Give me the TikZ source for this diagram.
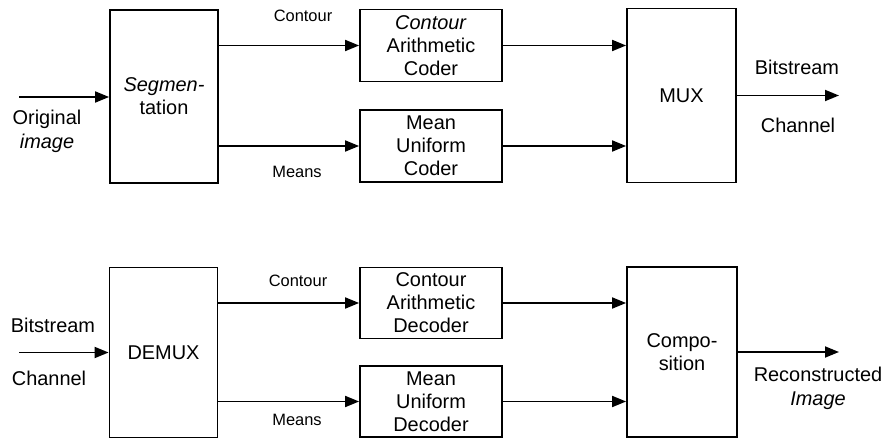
\documentclass[tikz,border=0pt]{standalone}
\usepackage{fontspec}
\setmainfont{Liberation Sans}
\usetikzlibrary{arrows.meta}
\begin{document}
\begin{tikzpicture}[x=1bp,y=-1bp,
  blk/.style={draw,line width=1.8bp,rectangle,inner sep=0pt,align=center,
    font=\fontsize{20}{23}\selectfont},
  lbl/.style={inner sep=0pt,align=center,font=\fontsize{20}{24}\selectfont},
  sml/.style={inner sep=0pt,font=\fontsize{16.5}{19}\selectfont},
  arr/.style={line width=1.8bp,-{Triangle[length=14bp,width=11bp]}}]
\useasboundingbox (0,0) rectangle (887,438);

% ---- encoder ----
\node[blk,minimum width=108bp,minimum height=173bp] (seg) at (164,96.5)
  {\textit{Segmen-}\\tation};
\node[blk,minimum width=142bp,minimum height=72bp] (cac) at (431,45.5)
  {\textit{Contour}\\Arithmetic\\Coder};
\node[blk,minimum width=142bp,minimum height=72bp] (muc) at (431,146)
  {Mean\\Uniform\\Coder};
\node[blk,minimum width=109bp,minimum height=174bp] (mux) at (681.5,95.5) {MUX};

\coordinate (in1) at (19,97);
\coordinate (out1) at (839,95.5);
\draw[arr] (in1) -- (in1 -| seg.west);
\draw[arr] (seg.east |- cac) -- (cac.west);
\draw[arr] (seg.east |- muc) -- (muc.west);
\draw[arr] (cac.east) -- (cac.east -| mux.west);
\draw[arr] (muc.east) -- (muc.east -| mux.west);
\draw[arr] (mux.east) -- (out1);

\node[lbl] (orig) at (47,131) {Original\\\textit{image}};
\node[sml] (lc1) at (303,16) {Contour};
\node[sml] (lm1) at (297,172) {Means};
\node[lbl] (bs1) at (797,67) {Bitstream};
\node[lbl] (ch1) at (798,125) {Channel};

% ---- decoder ----
\node[blk,minimum width=108bp,minimum height=170bp] (dmx) at (163.5,352.5) {DEMUX};
\node[blk,minimum width=142bp,minimum height=71bp] (cad) at (431,303)
  {Contour\\Arithmetic\\Decoder};
\node[blk,minimum width=142bp,minimum height=71bp] (mud) at (431,401.5)
  {Mean\\Uniform\\Decoder};
\node[blk,minimum width=110bp,minimum height=170bp] (cmp) at (682,352)
  {Compo-\\sition};

\coordinate (in2) at (19,352.5);
\coordinate (out2) at (839,352);
\draw[arr] (in2) -- (dmx.west);
\draw[arr] (dmx.east |- cad) -- (cad.west);
\draw[arr] (dmx.east |- mud) -- (mud.west);
\draw[arr] (cad.east) -- (cad.east -| cmp.west);
\draw[arr] (mud.east) -- (mud.east -| cmp.west);
\draw[arr] (cmp.east) -- (out2);

\node[lbl] (bs2) at (53,325) {Bitstream};
\node[lbl] (ch2) at (49,378) {Channel};
\node[sml] (lc2) at (298,281) {Contour};
\node[sml] (lm2) at (297,420) {Means};
\node[lbl] (rec) at (818,388) {Reconstructed\\\textit{Image}};
\end{tikzpicture}
\end{document}
